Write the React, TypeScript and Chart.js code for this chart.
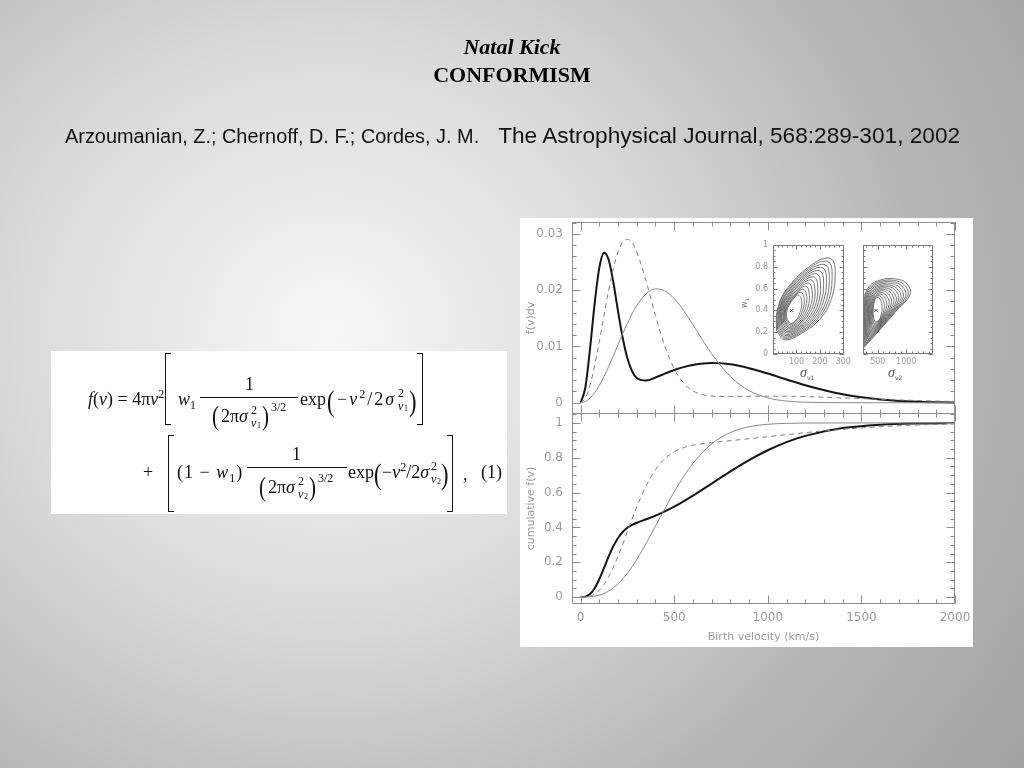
import React, { useEffect, useRef } from 'react';
import { Chart, registerables } from 'chart.js';

Chart.register(...registerables);

// ---------------- data ----------------
const VELOCITY = [0, 25, 50, 75, 100, 125, 150, 175, 200, 225, 250, 275, 300, 350, 400, 450, 500, 550, 600, 700, 800, 900, 1000, 1100, 1200, 1400, 1600, 1800, 2000];

// f(v)dv, top panel
const PDF_BEST = [0, 0.00266, 0.00948, 0.01761, 0.02399, 0.02666, 0.02539, 0.02135, 0.01624, 0.01149, 0.00789, 0.0056, 0.0044, 0.00395, 0.00449, 0.00517, 0.00581, 0.00633, 0.00671, 0.00704, 0.00682, 0.00614, 0.00518, 0.00412, 0.0031, 0.00149, 0.00059, 0.00019, 0.00005];
const PDF_DASHED = [0, 0.00079, 0.00308, 0.00659, 0.01091, 0.01555, 0.02002, 0.02388, 0.02678, 0.02852, 0.02904, 0.0284, 0.02678, 0.02158, 0.01547, 0.01004, 0.00603, 0.0035, 0.0021, 0.00118, 0.00111, 0.00115, 0.00117, 0.00115, 0.00108, 0.00086, 0.00061, 0.00039, 0.00022];
const PDF_SINGLE = [0, 0.0002, 0.00081, 0.00178, 0.00308, 0.00466, 0.00644, 0.00835, 0.01032, 0.01226, 0.0141, 0.01578, 0.01724, 0.01935, 0.02022, 0.01988, 0.0185, 0.01639, 0.01385, 0.00871, 0.00466, 0.00215, 0.00086, 0.0003, 0.00009, 0.00001, 0, 0, 0];

// cumulative f(v), bottom panel
const CDF_BEST = [0, 0.00225, 0.0168, 0.05073, 0.10334, 0.16753, 0.23343, 0.29214, 0.3392, 0.37365, 0.3976, 0.41423, 0.42653, 0.44665, 0.46758, 0.49174, 0.51925, 0.54963, 0.58229, 0.65155, 0.72126, 0.78634, 0.84312, 0.88966, 0.92566, 0.97034, 0.99002, 0.99716, 0.99932];
const CDF_DASHED = [0, 0.00066, 0.00522, 0.01709, 0.03884, 0.07188, 0.11644, 0.1715, 0.23503, 0.30439, 0.37661, 0.44863, 0.51778, 0.63946, 0.73208, 0.79535, 0.8349, 0.85817, 0.87175, 0.88685, 0.89803, 0.90936, 0.92104, 0.93268, 0.94384, 0.96339, 0.97815, 0.98805, 0.99402];
const CDF_SINGLE = [0, 0.00017, 0.00135, 0.00451, 0.01052, 0.02015, 0.03399, 0.05246, 0.07579, 0.10401, 0.13698, 0.17436, 0.2157, 0.30766, 0.40708, 0.50779, 0.60413, 0.69157, 0.7673, 0.87961, 0.94519, 0.97803, 0.99224, 0.99757, 0.99933, 0.99996, 1, 1, 1];

// tick labels
const X_TICKS = [0, 500, 1000, 1500, 2000];
const PDF_TICKS = [0, 0.01, 0.02, 0.03];
const CDF_TICKS = [0, 0.2, 0.4, 0.6, 0.8, 1];
const W1_TICKS = [0, 0.2, 0.4, 0.6, 0.8, 1];
const SIGMA1_TICKS = [100, 200, 300];
const SIGMA2_TICKS = [500, 1000];

// inset likelihood contours, [sigma, w1] pairs, inner to outer
const CONTOURS_SIGMA1 = [
  [[60, 0.32], [75, 0.28], [98, 0.31], [115, 0.38], [123, 0.46], [118, 0.52], [105, 0.54], [85, 0.5], [65, 0.43], [58, 0.37]],
  [[56, 0.312], [73, 0.268], [100, 0.301], [122, 0.375], [133, 0.462], [130, 0.535], [117, 0.568], [93, 0.529], [64, 0.444], [54, 0.373]],
  [[52, 0.303], [71, 0.255], [103, 0.292], [129, 0.37], [143, 0.463], [142, 0.55], [129, 0.595], [101, 0.557], [64, 0.458], [51, 0.375]],
  [[49, 0.295], [69, 0.243], [106, 0.283], [136, 0.365], [153, 0.465], [154, 0.565], [141, 0.623], [109, 0.585], [63, 0.473], [48, 0.378]],
  [[45, 0.287], [67, 0.23], [109, 0.273], [143, 0.36], [164, 0.467], [167, 0.58], [153, 0.65], [117, 0.613], [63, 0.487], [45, 0.38]],
  [[41, 0.279], [65, 0.218], [111, 0.264], [150, 0.355], [174, 0.469], [179, 0.595], [165, 0.678], [124, 0.642], [63, 0.501], [41, 0.383]],
  [[37, 0.27], [62, 0.205], [114, 0.255], [158, 0.35], [184, 0.47], [191, 0.61], [177, 0.705], [132, 0.67], [62, 0.515], [38, 0.385]],
  [[34, 0.262], [60, 0.193], [116, 0.246], [165, 0.345], [194, 0.472], [203, 0.625], [189, 0.733], [140, 0.699], [62, 0.529], [34, 0.388]],
  [[30, 0.253], [58, 0.18], [119, 0.237], [172, 0.34], [204, 0.473], [216, 0.64], [202, 0.76], [148, 0.727], [62, 0.543], [31, 0.39]],
  [[26, 0.245], [56, 0.168], [122, 0.228], [179, 0.335], [214, 0.475], [228, 0.655], [214, 0.788], [156, 0.755], [61, 0.558], [28, 0.393]],
  [[22, 0.237], [54, 0.155], [125, 0.218], [186, 0.33], [225, 0.477], [240, 0.67], [226, 0.815], [164, 0.783], [61, 0.572], [25, 0.395]],
  [[19, 0.229], [52, 0.143], [127, 0.209], [193, 0.325], [235, 0.479], [252, 0.685], [238, 0.843], [172, 0.812], [60, 0.586], [21, 0.398]],
  [[15, 0.22], [50, 0.13], [130, 0.2], [200, 0.32], [245, 0.48], [265, 0.7], [250, 0.87], [180, 0.84], [60, 0.6], [18, 0.4]],
];
const CONTOURS_SIGMA2 = [
  [[455, 0.29], [520, 0.31], [560, 0.36], [575, 0.42], [560, 0.48], [510, 0.52], [465, 0.51], [435, 0.47], [420, 0.41], [425, 0.34]],
  [[438, 0.271], [518, 0.301], [580, 0.361], [616, 0.431], [596, 0.494], [534, 0.534], [472, 0.524], [428, 0.482], [407, 0.417], [411, 0.332]],
  [[422, 0.252], [517, 0.292], [600, 0.363], [658, 0.442], [633, 0.508], [558, 0.548], [479, 0.538], [421, 0.495], [394, 0.425], [397, 0.325]],
  [[405, 0.232], [515, 0.282], [620, 0.365], [699, 0.452], [670, 0.522], [582, 0.562], [486, 0.552], [414, 0.507], [380, 0.432], [382, 0.317]],
  [[388, 0.213], [513, 0.273], [640, 0.367], [740, 0.463], [707, 0.537], [607, 0.577], [493, 0.567], [407, 0.52], [367, 0.44], [368, 0.31]],
  [[371, 0.194], [511, 0.264], [660, 0.368], [781, 0.474], [743, 0.551], [631, 0.591], [500, 0.581], [400, 0.532], [354, 0.447], [354, 0.302]],
  [[355, 0.175], [510, 0.255], [680, 0.37], [823, 0.485], [780, 0.565], [655, 0.605], [508, 0.595], [393, 0.545], [341, 0.455], [340, 0.295]],
  [[338, 0.156], [508, 0.246], [700, 0.371], [864, 0.496], [816, 0.579], [679, 0.619], [515, 0.609], [385, 0.557], [328, 0.462], [326, 0.287]],
  [[322, 0.137], [507, 0.237], [720, 0.373], [905, 0.507], [853, 0.593], [703, 0.633], [522, 0.623], [378, 0.57], [315, 0.47], [312, 0.28]],
  [[305, 0.117], [505, 0.227], [740, 0.375], [946, 0.517], [890, 0.607], [727, 0.647], [529, 0.637], [371, 0.582], [301, 0.477], [297, 0.272]],
  [[288, 0.098], [503, 0.218], [760, 0.377], [988, 0.528], [927, 0.622], [752, 0.662], [536, 0.652], [364, 0.595], [288, 0.485], [283, 0.265]],
  [[271, 0.079], [501, 0.209], [780, 0.378], [1029, 0.539], [963, 0.636], [776, 0.676], [543, 0.666], [357, 0.607], [275, 0.492], [269, 0.257]],
  [[255, 0.06], [500, 0.2], [800, 0.38], [1070, 0.55], [1000, 0.65], [800, 0.69], [550, 0.68], [350, 0.62], [262, 0.5], [255, 0.25]],
];
const BEST_FIT_SIGMA1 = [[80, 0.4]];
const BEST_FIT_SIGMA2 = [[470, 0.4]];

// ---------------- helpers ----------------
const SANS = "'DejaVu Sans', 'Liberation Sans', sans-serif";
const SERIF = "'Liberation Serif', 'DejaVu Serif', serif";
const AXIS_GRAY = '#8e8e8e';
const LABEL_GRAY = '#9c9c9c';

const pts = (xs: number[], ys: number[]) => xs.map((x, i) => ({ x, y: ys[i] }));
const ring = (r: number[][]) => [...r, r[0]].map(([x, y]) => ({ x, y }));
const range = (a: number, b: number, step: number) => {
  const out: number[] = [];
  for (let v = a; v <= b + 1e-9; v += step) out.push(Math.round(v * 1e6) / 1e6);
  return out;
};

function framePlugin(cfg: any) {
  return {
    id: 'frame',
    afterDatasetsDraw(chart: any) {
      const { ctx, chartArea: a } = chart;
      const xs = chart.scales.x;
      const ys = chart.scales.y;
      ctx.save();
      ctx.strokeStyle = cfg.color;
      ctx.lineWidth = 1;
      const L = Math.round(a.left) + 0.5;
      const R = Math.round(a.right) - 0.5;
      const T = Math.round(a.top) + 0.5;
      const B = Math.round(a.bottom) - 0.5;
      ctx.beginPath();
      ctx.rect(L, T, R - L, B - T);
      const xt = (v: number, len: number) => {
        if (v < xs.min || v > xs.max) return;
        const p = Math.round(xs.getPixelForValue(v)) + 0.5;
        ctx.moveTo(p, B); ctx.lineTo(p, B - len);
        ctx.moveTo(p, T); ctx.lineTo(p, T + len);
      };
      const yt = (v: number, len: number) => {
        if (v < ys.min || v > ys.max) return;
        const p = Math.round(ys.getPixelForValue(v)) + 0.5;
        ctx.moveTo(L, p); ctx.lineTo(L + len, p);
        ctx.moveTo(R, p); ctx.lineTo(R - len, p);
      };
      cfg.xMinor.forEach((v: number) => xt(v, cfg.minor));
      cfg.xMajor.forEach((v: number) => xt(v, cfg.major));
      cfg.yMinor.forEach((v: number) => yt(v, cfg.minor));
      cfg.yMajor.forEach((v: number) => yt(v, cfg.major));
      ctx.stroke();
      ctx.restore();
    },
  };
}

const X_MIN = -46;
const X_MAX = 2000;

const baseOptions = (padding: any) => ({
  responsive: false,
  animation: false as const,
  layout: { padding },
  elements: { point: { radius: 0 } },
  plugins: { legend: { display: false }, tooltip: { enabled: false } },
});

// gap between axis and labels is given through tickLength (ticks themselves are not drawn)
const tickAxis = (ticks: number[], size: number, gap: number) => ({
  afterBuildTicks: (s: any) => { s.ticks = ticks.map((value) => ({ value })); },
  grid: { display: false, drawTicks: true, tickLength: gap },
  border: { display: false },
  ticks: {
    autoSkip: false,
    maxRotation: 0,
    padding: 0,
    color: LABEL_GRAY,
    font: { family: SANS, size },
    callback: (v: any) => String(v),
  },
});

function useChart(ref: React.RefObject<HTMLCanvasElement>, make: () => any) {
  useEffect(() => {
    const chart = new Chart(ref.current as HTMLCanvasElement, make());
    return () => chart.destroy();
  }, []);
}

function TopPanel() {
  const ref = useRef<HTMLCanvasElement>(null);
  useChart(ref, () => ({
    type: 'line',
    data: {
      datasets: [
        { data: pts(VELOCITY, PDF_SINGLE), borderColor: '#8a8a8a', borderWidth: 1, cubicInterpolationMode: 'monotone' },
        { data: pts(VELOCITY, PDF_DASHED), borderColor: '#7e7e7e', borderWidth: 1, borderDash: [5, 4], cubicInterpolationMode: 'monotone' },
        { data: pts(VELOCITY, PDF_BEST), borderColor: '#161616', borderWidth: 2, cubicInterpolationMode: 'monotone' },
      ],
    },
    options: {
      ...baseOptions({ left: 0, top: 9, right: 18, bottom: 8 }),
      scales: {
        x: { type: 'linear', display: false, min: X_MIN, max: X_MAX },
        y: {
          type: 'linear', min: -0.002, max: 0.0321,
          afterFit: (s: any) => { s.width = 52; },
          ...tickAxis(PDF_TICKS, 12, 9),
          title: { display: true, text: 'f(v)dv', color: LABEL_GRAY, font: { family: SANS, size: 11 }, padding: { top: 5, bottom: 0 } },
        },
      },
    },
    plugins: [framePlugin({
      color: AXIS_GRAY, major: 8, minor: 4,
      xMajor: X_TICKS, xMinor: range(0, 2000, 100),
      yMajor: PDF_TICKS, yMinor: range(0, 0.032, 0.002),
    })],
  }));
  return <canvas ref={ref} width={453} height={209} style={{ position: 'absolute', left: 520, top: 213, width: 453, height: 209 }} />;
}

function BottomPanel() {
  const ref = useRef<HTMLCanvasElement>(null);
  useChart(ref, () => ({
    type: 'line',
    data: {
      datasets: [
        { data: pts(VELOCITY, CDF_SINGLE), borderColor: '#8a8a8a', borderWidth: 1, cubicInterpolationMode: 'monotone' },
        { data: pts(VELOCITY, CDF_DASHED), borderColor: '#7e7e7e', borderWidth: 1, borderDash: [5, 4], cubicInterpolationMode: 'monotone' },
        { data: pts(VELOCITY, CDF_BEST), borderColor: '#161616', borderWidth: 2, cubicInterpolationMode: 'monotone' },
      ],
    },
    options: {
      ...baseOptions({ left: 0, top: 8, right: 20, bottom: 0 }),
      scales: {
        x: {
          type: 'linear', min: X_MIN, max: X_MAX,
          afterFit: (s: any) => { s.height = 43; },
          ...tickAxis(X_TICKS, 12, 7),
          title: { display: true, text: 'Birth velocity (km/s)', color: LABEL_GRAY, font: { family: SANS, size: 11 }, padding: { top: 0, bottom: 3 } },
        },
        y: {
          type: 'linear', min: -0.04, max: 1.057,
          afterFit: (s: any) => { s.width = 52; },
          ...tickAxis(CDF_TICKS, 12, 9),
          title: { display: true, text: 'cumulative f(v)', color: LABEL_GRAY, font: { family: SANS, size: 11 }, padding: { top: 5, bottom: 0 } },
        },
      },
    },
    plugins: [framePlugin({
      color: AXIS_GRAY, major: 8, minor: 4,
      xMajor: X_TICKS, xMinor: range(0, 2000, 100),
      yMajor: CDF_TICKS, yMinor: range(0, 1.05, 0.05),
    })],
  }));
  return <canvas ref={ref} width={455} height={242} style={{ position: 'absolute', left: 520, top: 405, width: 455, height: 242 }} />;
}

function contourDatasets(rings: number[][][], best: number[][]) {
  return [
    ...rings.map((r) => ({ data: ring(r), borderColor: '#2e2e2e', borderWidth: 0.65, tension: 0.4 })),
    {
      data: best.map(([x, y]) => ({ x, y })), showLine: false,
      pointRadius: 2.2, pointStyle: 'crossRot', borderColor: '#333', borderWidth: 0.8,
    },
  ];
}

function InsetOne() {
  const ref = useRef<HTMLCanvasElement>(null);
  useChart(ref, () => ({
    type: 'line',
    data: { datasets: contourDatasets(CONTOURS_SIGMA1, BEST_FIT_SIGMA1) },
    options: {
      ...baseOptions({ left: 0, top: 7, right: 11, bottom: 0 }),
      scales: {
        x: { type: 'linear', min: 0, max: 303, afterFit: (s: any) => { s.height = 29; }, ...tickAxis(SIGMA1_TICKS, 8, 3) },
        y: { type: 'linear', min: 0, max: 1, afterFit: (s: any) => { s.width = 33; }, ...tickAxis(W1_TICKS, 8, 5) },
      },
    },
    plugins: [framePlugin({
      color: '#7a7a7a', major: 4, minor: 2,
      xMajor: [0, 100, 200, 300], xMinor: range(0, 300, 20),
      yMajor: W1_TICKS, yMinor: range(0, 1, 0.05),
    })],
  }));
  return <canvas ref={ref} width={115} height={145} style={{ position: 'absolute', left: 740, top: 238, width: 115, height: 145 }} />;
}

function InsetTwo() {
  const ref = useRef<HTMLCanvasElement>(null);
  useChart(ref, () => ({
    type: 'line',
    data: { datasets: contourDatasets(CONTOURS_SIGMA2, BEST_FIT_SIGMA2) },
    options: {
      ...baseOptions({ left: 13, top: 7, right: 12, bottom: 0 }),
      scales: {
        x: { type: 'linear', min: 240, max: 1470, afterFit: (s: any) => { s.height = 29; }, ...tickAxis(SIGMA2_TICKS, 8, 3) },
        y: { type: 'linear', min: 0, max: 1, display: false },
      },
    },
    plugins: [framePlugin({
      color: '#7a7a7a', major: 4, minor: 2,
      xMajor: SIGMA2_TICKS, xMinor: range(300, 1400, 100),
      yMajor: W1_TICKS, yMinor: range(0, 1, 0.05),
    })],
  }));
  return <canvas ref={ref} width={95} height={145} style={{ position: 'absolute', left: 850, top: 238, width: 95, height: 145 }} />;
}

// ---------------- equation pieces ----------------
function Tx({ x, b, s = 18, children, style }: any) {
  return (
    <span style={{ position: 'absolute', left: x, top: b - 0.8375 * s, fontSize: s, lineHeight: 1, whiteSpace: 'nowrap', ...style }}>
      {children}
    </span>
  );
}
const Sp = ({ children }: any) => <span style={{ fontSize: 12, lineHeight: 0, position: 'relative', top: -7 }}>{children}</span>;
const Sb = ({ children }: any) => <span style={{ fontSize: 12, lineHeight: 0, position: 'relative', top: 4 }}>{children}</span>;
function Bar({ x, y, w }: any) {
  return <div style={{ position: 'absolute', left: x, top: y, width: w, height: 1, background: '#111' }} />;
}
function Br({ x, y, h, side }: any) {
  const st: any = { position: 'absolute', left: x, top: y, width: 6, height: h, boxSizing: 'border-box', border: '1.4px solid #111' };
  if (side === 'left') st.borderRight = 'none'; else st.borderLeft = 'none';
  return <div style={st} />;
}
function SigScripts({ x, b, n }: any) {
  return (
    <>
      <Tx x={x} b={b - 8} s={12}>2</Tx>
      <Tx x={x} b={b + 5} s={12}><i>v</i></Tx>
      <Tx x={x + 6} b={b + 7} s={8}>{n}</Tx>
    </>
  );
}
const Paren = ({ x, b, s, c }: any) => <Tx x={x} b={b} s={s} style={{ transform: 'scaleX(0.75)', transformOrigin: 'left' }}>{c}</Tx>;

function Equation() {
  return (
    <div style={{ position: 'absolute', left: 51, top: 351, width: 456, height: 163, background: '#ffffff' }}>
      <div style={{ position: 'absolute', left: -51, top: -351, fontFamily: SERIF, color: '#111' }}>
        {/* line 1 */}
        <Tx x={88} b={405}><i>f</i>(<i>v</i>) = 4π<i>v</i><Sp>2</Sp></Tx>
        <Br x={165} y={353} h={72} side="left" />
        <Tx x={178} b={405}><i>w</i><Sb>1</Sb></Tx>
        <Bar x={200} y={397} w={98} />
        <Tx x={245} b={390}>1</Tx>
        <Paren x={212} b={425} s={28} c="(" />
        <Tx x={221} b={422}>2π<i>σ</i></Tx>
        <SigScripts x={251} b={422} n="1" />
        <Paren x={262} b={425} s={28} c=")" />
        <Tx x={271} b={411} s={12}>3/2</Tx>
        <Tx x={300} b={405}>exp</Tx>
        <Paren x={327} b={411} s={30} c="(" />
        <Tx x={337} b={405} style={{ letterSpacing: 2 }}>−<i>v</i><Sp>2</Sp>/2<i>σ</i></Tx>
        <SigScripts x={398} b={405} n="1" />
        <Paren x={409} b={411} s={30} c=")" />
        <Br x={417} y={353} h={72} side="right" />

        {/* line 2 */}
        <Tx x={143} b={478}>+</Tx>
        <Br x={168} y={435} h={77} side="left" />
        <Tx x={177} b={478} style={{ letterSpacing: 1 }}>(1 − <i>w</i><Sb>1</Sb>)</Tx>
        <Bar x={247} y={467} w={100} />
        <Tx x={292} b={460}>1</Tx>
        <Paren x={259} b={496} s={28} c="(" />
        <Tx x={268} b={493}>2π<i>σ</i></Tx>
        <SigScripts x={298} b={493} n="2" />
        <Paren x={309} b={496} s={28} c=")" />
        <Tx x={318} b={482} s={12}>3/2</Tx>
        <Tx x={348} b={478}>exp</Tx>
        <Paren x={374} b={484} s={30} c="(" />
        <Tx x={382} b={478}>−<i>v</i><Sp>2</Sp>/2<i>σ</i></Tx>
        <SigScripts x={431} b={478} n="2" />
        <Paren x={441} b={484} s={30} c=")" />
        <Br x={447} y={435} h={77} side="right" />
        <Tx x={463} b={480}>,</Tx>
        <Tx x={481} b={478}>(1)</Tx>
      </div>
    </div>
  );
}

export default function App() {
  return (
    <div
      style={{
        position: 'fixed', left: 0, top: 0, width: 1024, height: 768, overflow: 'hidden',
        background: 'radial-gradient(ellipse 900px 820px at 330px 330px, #f7f7f7 0%, #dadada 35%, #b6b6b6 66%, #9e9e9e 100%)',
      }}
    >
      <div style={{ position: 'absolute', left: 0, top: 34, width: 1024, textAlign: 'center', fontFamily: SERIF, fontSize: 22, lineHeight: '26px', fontWeight: 'bold', fontStyle: 'italic', color: '#000' }}>
        Natal Kick
      </div>
      <div style={{ position: 'absolute', left: 0, top: 62, width: 1024, textAlign: 'center', fontFamily: SERIF, fontSize: 22, lineHeight: '26px', fontWeight: 'bold', color: '#000' }}>
        CONFORMISM
      </div>
      <div style={{ position: 'absolute', left: 65, top: 122, whiteSpace: 'nowrap', fontFamily: "'Liberation Sans', Arial, sans-serif", fontSize: 22.65, lineHeight: '26px', color: '#111' }}>
        <span style={{ fontSize: 19.9 }}>Arzoumanian, Z.; Chernoff, D. F.; Cordes, J. M.</span>
        <span style={{ display: 'inline-block', width: 19 }} />
        <span>The Astrophysical Journal, 568:289-301, 2002</span>
      </div>

      <Equation />

      <div style={{ position: 'absolute', left: 520, top: 218, width: 453, height: 429, background: '#ffffff' }} />
      <TopPanel />
      <BottomPanel />
      <InsetOne />
      <InsetTwo />
      <div style={{ position: 'absolute', left: 737, top: 297, width: 16, height: 12, lineHeight: '12px', transform: 'rotate(-90deg)', fontFamily: SANS, fontSize: 8, color: '#777', textAlign: 'center' }}>
        w<span style={{ fontSize: 5, position: 'relative', top: 2 }}>1</span>
      </div>
      <div style={{ position: 'absolute', left: 800, top: 365, fontFamily: SERIF, fontStyle: 'italic', fontSize: 14, lineHeight: '16px', color: '#555', whiteSpace: 'nowrap' }}>
        σ<span style={{ fontSize: 6, fontStyle: 'normal', fontFamily: SANS, position: 'relative', top: 3 }}>v1</span>
      </div>
      <div style={{ position: 'absolute', left: 888, top: 365, fontFamily: SERIF, fontStyle: 'italic', fontSize: 14, lineHeight: '16px', color: '#555', whiteSpace: 'nowrap' }}>
        σ<span style={{ fontSize: 6, fontStyle: 'normal', fontFamily: SANS, position: 'relative', top: 3 }}>v2</span>
      </div>
    </div>
  );
}
